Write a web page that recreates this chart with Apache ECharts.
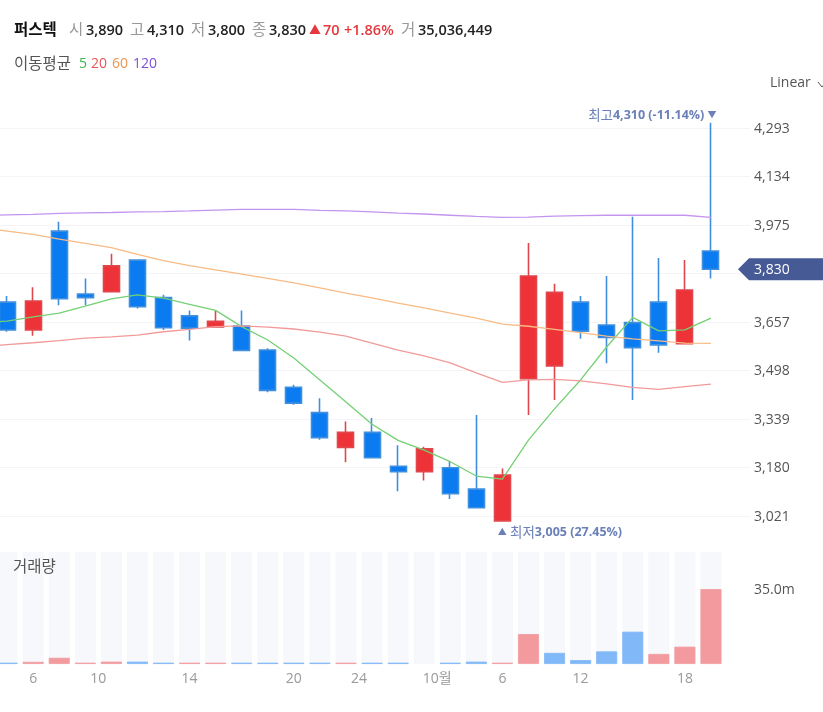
<!DOCTYPE html>
<html><head><meta charset="utf-8">
<style>html,body{margin:0;padding:0;background:#fff;overflow:hidden;width:823px;height:712px}#c{position:absolute;left:-32px;top:0;width:855px;height:712px}</style>
<script src="https://cdn.jsdelivr.net/npm/echarts@6/dist/echarts.min.js"></script>
</head><body><div id="c"></div>
<script>
const FONT='"Open Sans","Noto Sans CJK KR",sans-serif';
const slots=['p',0,1,2,3,4,5,6,7,8,9,10,11,12,13,14,15,16,17,18,19,20,21,22,23,24,25,26,27,'t'];
const opens =[3722,3631,3955,3749,3756,3860,3737,3677,3641,3644,3565,3443,3360,3246,3295,3184,3166,3179,3109,3005,3471,3513,3722,3647,3655,3722,3586,3890];
const closes=[3631,3726,3733,3737,3841,3707,3638,3637,3659,3564,3433,3391,3278,3295,3212,3166,3241,3094,3048,3155,3808,3754,3627,3606,3573,3582,3762,3830];
const lows  =[3625,3612,3712,3712,3756,3701,3631,3596,3641,3564,3427,3386,3271,3197,3212,3102,3137,3077,3048,3005,3352,3401,3602,3522,3401,3556,3586,3800];
const highs =[3742,3771,3986,3800,3881,3860,3746,3695,3693,3695,3571,3451,3407,3331,3342,3253,3248,3201,3352,3177,3916,3782,3742,3808,4002,3867,3860,4310];
const volumes=[600000,1000000,2900000,600000,1100000,1100000,600000,600000,600000,600000,600000,600000,600000,600000,600000,600000,0,600000,1100000,600000,14000000,5200000,1800000,5900000,15100000,4700000,8100000,35036449];
const volumeRising=[0,1,1,1,1,0,0,1,1,0,0,0,0,1,0,0,0,0,0,1,1,0,0,0,0,1,1,1];
const ma5 =[3655,3660,3674,3686,3709,3733,3746,3735,3715,3695,3642,3598,3539,3467,3395,3322,3269,3237,3199,3152,3142,3270,3372,3467,3575,3672,3628,3631,3670];
const ma20=[3575,3583,3589,3596,3604,3608,3614,3625,3633,3642,3644,3640,3634,3624,3611,3588,3565,3546,3523,3490,3459,3467,3469,3464,3454,3443,3436,3445,3453];
const ma60=[3966,3955,3944,3929,3915,3901,3879,3858,3842,3828,3814,3800,3785,3769,3752,3736,3719,3703,3686,3670,3650,3643,3633,3622,3611,3602,3595,3588,3587];
const ma120=[4006,4008,4010,4013,4015,4016,4018,4019,4021,4024,4026,4026,4026,4023,4021,4018,4014,4011,4007,4003,4000,4001,4004,4006,4007,4007,4007,4007,4000];
const xTickPositions=[1,3.5,7,11,13.5,16.5,19,22,26];
const xTickLabels=['6','10','14','20','24','10월','6','12','18'];
const priceTickStep=159;
const headerName='퍼스텍';
const highPct='-11.14%', lowPct='27.45%';

const OX=32;
const fmt=n=>Math.round(n).toLocaleString('en-US');
const RED='#ee3338',BLUE='#0a7bf0',RED_W='#e0474c',BLUE_W='#3f8fde';
const candleData=opens.map((o,i)=>({value:[o,closes[i],lows[i],highs[i]],
  itemStyle:{color:o<closes[i]?RED:BLUE,color0:o<closes[i]?RED:BLUE,borderColor:o<closes[i]?RED_W:BLUE_W,borderColor0:o<closes[i]?RED_W:BLUE_W,borderWidth:1.6}}));
const pad=a=>[...a,'-'];
const hiIdx=highs.indexOf(Math.max(...highs)), loIdx=lows.indexOf(Math.min(...lows));
const chart=echarts.init(document.getElementById('c'),null,{renderer:'canvas'});
const line=(name,d,c)=>({name,type:'line',data:pad(d),xAxisIndex:0,yAxisIndex:0,symbol:'none',silent:true,z:5,
  lineStyle:{color:c,width:1.3},smooth:false,animation:false});
const mk={color:'#6b80b8'};
const markRich={a:{...mk,fontSize:13.5,fontFamily:FONT},b:{...mk,fontSize:12.5,fontWeight:'bold',fontFamily:FONT},c:{...mk,fontSize:9}};
const axisRich={n:{color:'#555',fontSize:14,fontFamily:FONT,padding:[2,0,0,0]}};
chart.setOption({
 animation:false,backgroundColor:'#fff',textStyle:{fontFamily:FONT},
 grid:[{left:0,top:79.5,width:782,height:485},{left:0,top:552,width:756,height:112}],
 xAxis:[
  {type:'category',gridIndex:0,data:slots,axisLine:{show:false},axisTick:{show:false},axisLabel:{show:false},splitLine:{show:false}},
  {type:'category',gridIndex:1,data:slots.slice(0,-1),axisLine:{show:false},axisTick:{show:false},axisLabel:{show:false},splitLine:{show:false}},
  {type:'value',gridIndex:1,min:-1.5,max:27.5,position:'bottom',axisLine:{show:false},axisTick:{show:false},splitLine:{show:false},
   axisLabel:{customValues:xTickPositions,formatter:v=>xTickLabels[xTickPositions.indexOf(v)]||'',color:'#999',fontSize:14,fontFamily:FONT,margin:8,showMinLabel:true,showMaxLabel:true,hideOverlap:false}}
 ],
 yAxis:[
  {type:'value',gridIndex:0,position:'right',min:18*priceTickStep,max:28*priceTickStep,interval:priceTickStep,
   axisLine:{show:false},axisTick:{show:false},
   splitLine:{show:true,showMinLine:false,showMaxLine:false,lineStyle:{color:'#f3f4f7',width:1}},
   axisLabel:{margin:4,showMinLabel:false,showMaxLabel:false,formatter:v=>`{n|${fmt(v)}}`,rich:axisRich}},
  {type:'value',gridIndex:1,position:'right',min:0,max:52400000,axisLine:{show:false},axisTick:{show:false},splitLine:{show:false},
   axisLabel:{customValues:[35000000],margin:30,formatter:v=>`{n|${(v/1e6).toFixed(1)}m}`,rich:axisRich}}
 ],
 series:[
  {type:'bar',xAxisIndex:1,yAxisIndex:1,barWidth:21,showBackground:true,backgroundStyle:{color:'#f6f8fc'},silent:true,z:1,
   data:['-',...volumes.map((v,i)=>({value:v,itemStyle:{color:volumeRising[i]?'#f29a9e':'#80b8f8',borderColor:volumeRising[i]?'#f29a9e':'#80b8f8',borderWidth:v?0.8:0}}))]},
  {type:'candlestick',xAxisIndex:0,yAxisIndex:0,barWidth:16.5,z:3,silent:true,data:['-',...candleData,'-'],
   markPoint:{symbol:'circle',symbolSize:1,silent:true,itemStyle:{color:'transparent'},data:[
    {coord:[hiIdx+1,highs[hiIdx]],label:{show:true,position:'left',offset:[6,-7],distance:0,formatter:`{a|최고}{b|${fmt(highs[hiIdx])} (${highPct})} {c|▼}`,rich:markRich}},
    {coord:[loIdx+1,lows[loIdx]],label:{show:true,position:'right',offset:[-5,12],distance:0,formatter:`{c|▲} {a|최저}{b|${fmt(lows[loIdx])} (${lowPct})}`,rich:markRich}}
   ]}},
  line('MA5',ma5,'#74d074'),line('MA20',ma20,'#f29a9a'),line('MA60',ma60,'#f8bb85'),line('MA120',ma120,'#c495ee')
 ]
});
const lastClose=closes[closes.length-1];
const tagY=chart.convertToPixel({yAxisIndex:0},lastClose);
const T=(x,y,text,o={})=>({type:'text',x:x+OX,y,silent:true,z:20,style:{text,fontFamily:FONT,fontSize:o.s||14,fontWeight:o.w||'normal',fill:o.c||'#999',textVerticalAlign:'middle',textAlign:o.a||'left'}});
const D='#222',R='#e5383d',K=15.5,B=14.5;
chart.setOption({graphic:[
 T(14,31,headerName,{c:'#111',w:'bold',s:K}),
 T(69,31,'시',{s:K}),T(86,31,'3,890',{c:D,w:600,s:B}),
 T(130,31,'고',{s:K}),T(147,31,'4,310',{c:D,w:600,s:B}),
 T(191,31,'저',{s:K}),T(208,31,'3,800',{c:D,w:600,s:B}),
 T(252,31,'종',{s:K}),T(269,31,'3,830',{c:D,w:600,s:B}),
 T(309,32,'▲',{c:R,s:12}),T(323,31,'70',{c:R,w:600,s:B}),T(344,31,'+1.86%',{c:R,w:600,s:B}),
 T(401,31,'거',{s:K}),T(418,31,'35,036,449',{c:D,w:600,s:B}),
 T(14,65,'이동평균',{c:'#555',s:K}),T(79,64,'5',{c:'#3cb44b'}),T(91,64,'20',{c:'#e8555a'}),T(112,64,'60',{c:'#ec9550'}),T(133,64,'120',{c:'#8050d8'}),
 T(770,83.5,'Linear',{c:'#555'}),
 {type:'polyline',silent:true,z:20,shape:{points:[[818+OX,82],[822+OX,87],[826+OX,82]]},style:{stroke:'#555',lineWidth:1,fill:null}},
 T(13,568,'거래량',{c:'#555',s:K}),
 {type:'polygon',silent:true,z:19,shape:{points:[[738+OX,tagY],[749+OX,tagY-11],[823+OX,tagY-11],[823+OX,tagY+11],[749+OX,tagY+11]]},style:{fill:'#465b96'}},
 T(754,tagY+1,fmt(lastClose),{c:'#fff'})
]});
</script></body></html>
